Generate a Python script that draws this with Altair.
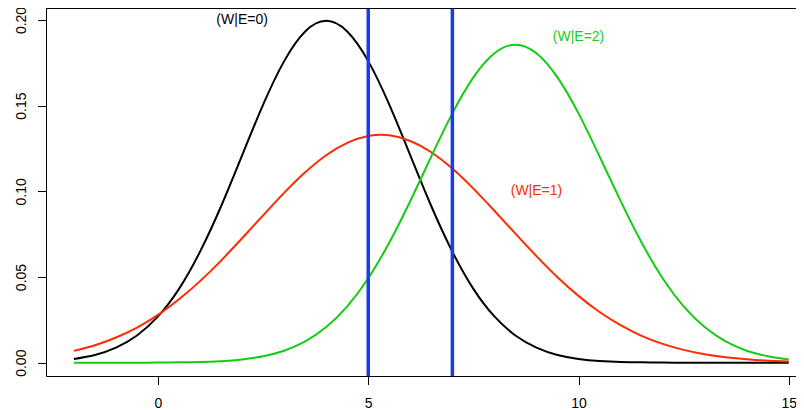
import altair as alt
import pandas as pd

# x grid
x_vals = [-2.0, -1.5, -1.0, -0.5, 0.0, 0.5, 1.0, 1.5, 2.0, 2.5, 3.0, 3.5, 4.0, 4.5,
          5.0, 5.5, 6.0, 6.5, 7.0, 7.5, 8.0, 8.5, 9.0, 9.5, 10.0, 10.5, 11.0, 11.5,
          12.0, 12.5, 13.0, 13.5, 14.0, 14.5, 15.0]

# (W|E=0) black curve
black_vals = [0.0022, 0.0045, 0.0088, 0.0159, 0.0270, 0.0431, 0.0648, 0.0913, 0.1210,
              0.1506, 0.1760, 0.1933, 0.1995, 0.1933, 0.1760, 0.1506, 0.1210, 0.0913,
              0.0648, 0.0431, 0.0270, 0.0159, 0.0088, 0.0045, 0.0022, 0.0010, 0.0004,
              0.0002, 0.0001, 0.0000, 0.0000, 0.0000, 0.0000, 0.0000, 0.0000]

# (W|E=1) red curve
red_vals = [0.0069, 0.0102, 0.0147, 0.0205, 0.0279, 0.0370, 0.0476, 0.0596, 0.0726,
            0.0860, 0.0991, 0.1111, 0.1211, 0.1283, 0.1323, 0.1327, 0.1294, 0.1228,
            0.1133, 0.1016, 0.0887, 0.0753, 0.0622, 0.0499, 0.0390, 0.0296, 0.0219,
            0.0157, 0.0110, 0.0075, 0.0049, 0.0032, 0.0020, 0.0012, 0.0007]

# (W|E=2) green curve
green_vals = [0.0000, 0.0000, 0.0000, 0.0000, 0.0001, 0.0002, 0.0004, 0.0009, 0.0019,
              0.0038, 0.0070, 0.0124, 0.0208, 0.0329, 0.0493, 0.0701, 0.0944, 0.1204,
              0.1455, 0.1665, 0.1806, 0.1856, 0.1806, 0.1665, 0.1455, 0.1204, 0.0944,
              0.0701, 0.0493, 0.0329, 0.0208, 0.0124, 0.0070, 0.0038, 0.0019]

vlines = [5, 7]

label_texts = ["(W|E=0)", "(W|E=1)", "(W|E=2)"]
label_x = [2, 9, 10]
label_y = [0.2, 0.1, 0.19]

x_ticks = [0, 5, 10, 15]
y_ticks = [0.0, 0.05, 0.10, 0.15, 0.20]

BLACK = "#000000"
RED = "#ff2a00"
GREEN = "#14cc14"
BLUE = "#1a3cf0"
FONT = "Liberation Sans"

x_scale = alt.Scale(domain=[-2.6635, 15.172], nice=False, zero=False)
y_scale = alt.Scale(domain=[-0.00776, 0.2070], nice=False, zero=False)

x_axis = alt.Axis(values=x_ticks, format="d", grid=False, domainColor="black",
                  tickColor="black", tickSize=8.5, labelPadding=22.5,
                  labelBaseline="alphabetic", labelFont=FONT, labelFontSize=14,
                  labelColor="black", labelFlush=False, title=None)
y_axis = alt.Axis(values=y_ticks, format=".2f", grid=False, domainColor="black",
                  tickColor="black", tickSize=8.5, labelPadding=12.5, labelAngle=270,
                  labelAlign="center", labelBaseline="alphabetic", labelFont=FONT,
                  labelFontSize=14, labelColor="black", labelFlush=False, title=None)


def X(field):
    return alt.X(field, scale=x_scale, axis=x_axis, title=None)


def Y(field):
    return alt.Y(field, scale=y_scale, axis=y_axis, title=None)


curves = pd.DataFrame({"x": x_vals, "black": black_vals, "red": red_vals,
                       "green": green_vals})


def curve(col, color):
    return alt.Chart(curves).mark_line(color=color, strokeWidth=2,
                                       interpolate="natural").encode(
        x=X("x:Q"),
        y=Y(f"{col}:Q"),
    )


vdf = pd.DataFrame({"v": vlines})
blue = alt.Chart(vdf).mark_rule(color=BLUE, strokeWidth=3.5).encode(
    x=X("v:Q")
)

ldf = pd.DataFrame({"t": label_texts, "x": label_x, "y": label_y,
                    "c": [BLACK, RED, GREEN]})
labels = alt.Chart(ldf).mark_text(font=FONT, fontSize=14, align="center",
                                  baseline="middle").encode(
    x=X("x:Q"),
    y=Y("y:Q"),
    text="t:N",
    color=alt.Color("c:N", scale=None),
)

top_border = alt.Chart(pd.DataFrame({"a": [0]})).mark_rule(
    color="black", strokeWidth=1).encode(y=alt.value(0.5))

chart = alt.layer(
    curve("black", BLACK),
    curve("red", RED),
    curve("green", GREEN),
    blue,
    labels,
    top_border,
).properties(
    width=750,
    height=368,
    autosize=alt.AutoSizeParams(type="none"),
    padding={"left": 38, "top": 0, "right": 0, "bottom": 33},
    background="white",
).configure_view(strokeWidth=0)

chart.save("out.html", embed_options={"renderer": "svg", "actions": False})
